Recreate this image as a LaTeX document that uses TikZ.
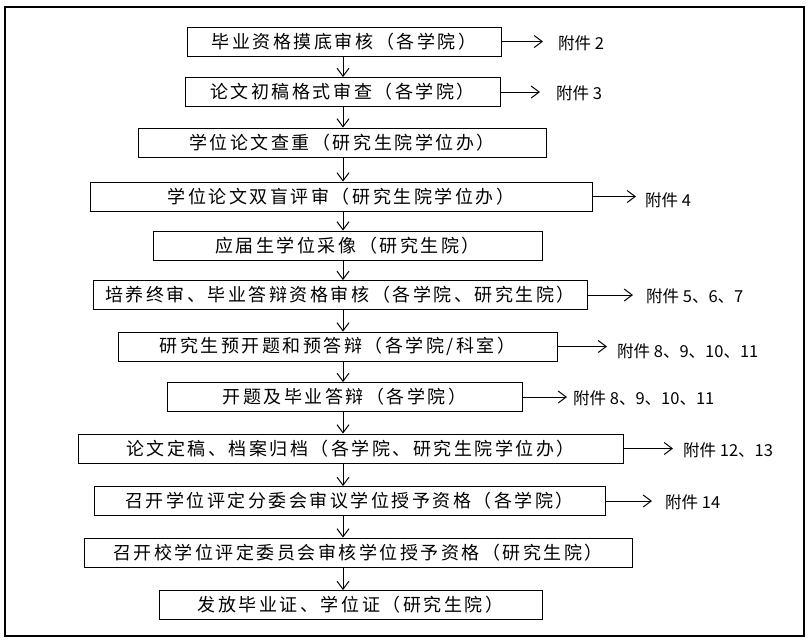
\documentclass[tikz,border=0pt]{standalone}
\usepackage{fontspec}
\setmainfont{Noto Sans CJK SC}
\newfontfamily\boxfont{Noto Sans CJK SC}[LetterSpace=14]
\usetikzlibrary{positioning,arrows.meta}

\begin{document}
\begin{tikzpicture}[x=1pt,y=-1pt,>={Straight Barb[length=8pt,width=12pt]},
    box/.style={draw,line width=1pt,minimum height=29pt,inner sep=0pt,
      font=\boxfont\fontsize{18}{18}\selectfont},
    note/.style={anchor=west,inner sep=0pt,font=\fontsize{16.5}{16.5}\selectfont},
    flow/.style={->,line width=1pt}]
  \useasboundingbox (0,0) rectangle (809,641);
  \draw[line width=2pt] (5,7) rectangle (804,636);
  \coordinate (axis) at (343,0);
  % steps
  \node[box,minimum width=314pt] (b1)  at (344,41.5)  {毕业资格摸底审核（各学院）};
  \node[box,minimum width=315pt] (b2)  at (342.5,92)  {论文初稿格式审查（各学院）};
  \node[box,minimum width=408pt] (b3)  at (342,142.5) {学位论文查重（研究生院学位办）};
  \node[box,minimum width=502pt] (b4)  at (341,196.5) {学位论文双盲评审（研究生院学位办）};
  \node[box,minimum width=389pt] (b5)  at (347.5,245.5) {应届生学位采像（研究生院）};
  \node[box,minimum width=494pt] (b6)  at (340,295)   {培养终审、毕业答辩资格审核（各学院、研究生院）};
  \node[box,minimum width=439pt] (b7)  at (337.5,346.5) {研究生预开题和预答辩（各学院/科室）};
  \node[box,minimum width=355pt] (b8)  at (344.5,397) {开题及毕业答辩（各学院）};
  \node[box,minimum width=545pt] (b9)  at (350.5,448.5) {论文定稿、档案归档（各学院、研究生院学位办）};
  \node[box,minimum width=511pt] (b10) at (349.5,501) {召开学位评定分委会审议学位授予资格（各学院）};
  \node[box,minimum width=548pt] (b11) at (358,552.5) {召开校学位评定委员会审核学位授予资格（研究生院）};
  \node[box,minimum width=383pt] (b12) at (350.5,605)   {发放毕业证、学位证（研究生院）};
  % attachments
  \node[note] (a1)  at (558,43)  {附件 2};
  \node[note] (a2)  at (556,93)  {附件 3};
  \node[note] (a4)  at (645,200) {附件 4};
  \node[note] (a6)  at (646,296) {附件 5、6、7};
  \node[note] (a7)  at (617,351) {附件 8、9、10、11};
  \node[note] (a8)  at (573,398) {附件 8、9、10、11};
  \node[note] (a9)  at (683,450) {附件 12、13};
  \node[note] (a10) at (665,502) {附件 14};
  \foreach \i/\j in {1/2,2/3,3/4,4/5,5/6,6/7,7/8,8/9,9/10,10/11,11/12}
    \draw[flow] (b\i.south -| axis) -- (b\j.north -| axis);
  \foreach \i/\s in {1/15,2/16,4/9,6/13,7/10,8/6,9/10,10/13}
    \draw[flow,shorten >=\s pt] (b\i.east) -- (b\i.east -| a\i.west);
\end{tikzpicture}
\end{document}
